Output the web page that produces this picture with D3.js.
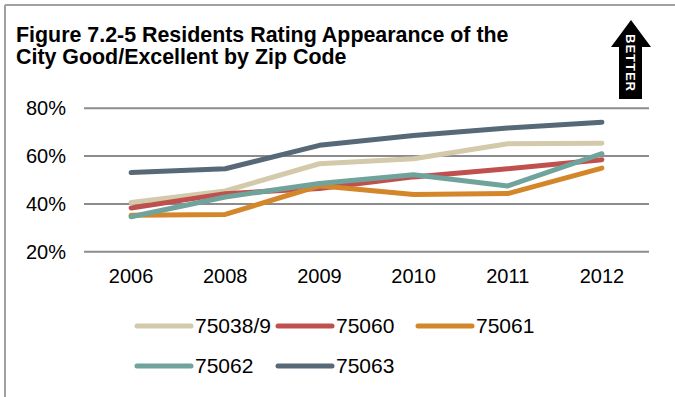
<!DOCTYPE html>
<html>
<head>
<meta charset="utf-8">
<script src="https://cdn.jsdelivr.net/npm/d3@7"></script>
<style>
  html, body { margin: 0; padding: 0; background: #fff; }
  svg { display: block; font-family: "Liberation Sans", Arial, sans-serif; }
</style>
</head>
<body>
<div id="chart"></div>
<script>
// Survey years (category axis)
const years = ["2006", "2008", "2009", "2010", "2011", "2012"];

// Share of residents rating the city's appearance good/excellent, by zip code (%)
const zip7503839 = [40.6, 45.4, 56.8, 58.9, 65.2, 65.4];
const zip75060   = [38.3, 44.3, 46.4, 51.3, 54.7, 58.5];
const zip75061   = [35.2, 35.6, 47.6, 43.9, 44.3, 55.0];
const zip75062   = [34.6, 42.9, 48.5, 52.2, 47.5, 61.0];
const zip75063   = [53.1, 54.7, 64.5, 68.6, 71.8, 74.2];

const seriesNames = ["75038/9", "75060", "75061", "75062", "75063"];
const seriesColors = ["#d3caab", "#c0504d", "#d4862a", "#6fa39b", "#576876"];

const yTicks = [20, 40, 60, 80];

const series = [
  { name: seriesNames[0], values: zip7503839, color: seriesColors[0] },
  { name: seriesNames[1], values: zip75060,   color: seriesColors[1] },
  { name: seriesNames[2], values: zip75061,   color: seriesColors[2] },
  { name: seriesNames[3], values: zip75062,   color: seriesColors[3] },
  { name: seriesNames[4], values: zip75063,   color: seriesColors[4] }
];

const W = 675, H = 397;
const svg = d3.select("#chart").append("svg").attr("width", W).attr("height", H);

// Frame (top and left rules)
svg.append("line").attr("x1", 5).attr("x2", W).attr("y1", 5).attr("y2", 5)
  .attr("stroke", "#a0a0a0").attr("stroke-width", 2);
svg.append("line").attr("x1", 5).attr("x2", 5).attr("y1", 5).attr("y2", H)
  .attr("stroke", "#a0a0a0").attr("stroke-width", 2);

// Title
const title = svg.append("text")
  .attr("font-size", 21.4).attr("font-weight", "bold").attr("fill", "#000");
title.append("tspan").attr("x", 16).attr("y", 42).text("Figure 7.2-5 Residents Rating Appearance of the");
title.append("tspan").attr("x", 16).attr("y", 64).text("City Good/Excellent by Zip Code");

// "BETTER" arrow
const arrow = svg.append("g");
arrow.append("path")
  .attr("d", "M631,20 L651,47 L642,47 L642,99 L619,99 L619,47 L611,47 Z")
  .attr("fill", "#000");
arrow.append("text")
  .attr("transform", "translate(631,63) rotate(90)")
  .attr("text-anchor", "middle").attr("dy", "0.36em")
  .attr("font-size", 13).attr("font-weight", "bold").attr("fill", "#fff")
  .attr("letter-spacing", 1)
  .text("BETTER");

// Plot area
const plotLeft = 84, plotRight = 649, plotTop = 108.3, plotBottom = 251.7;
const x = d3.scaleBand().domain(years).range([plotLeft, plotRight]);
const y = d3.scaleLinear().domain([20, 80]).range([plotBottom, plotTop]);

// Gridlines
svg.append("g").selectAll("line").data(yTicks).join("line")
  .attr("x1", plotLeft).attr("x2", plotRight)
  .attr("y1", d => y(d)).attr("y2", d => y(d))
  .attr("stroke", "#8c8c8c").attr("stroke-width", 2);

// Y axis labels
const yAxis = d3.axisLeft(y).tickValues(yTicks).tickFormat(d => d + "%").tickSize(0).tickPadding(18);
svg.append("g").attr("transform", `translate(${plotLeft},0)`).call(yAxis)
  .call(g => g.select(".domain").remove())
  .call(g => g.selectAll("text").attr("font-size", 20).attr("fill", "#000")
    .attr("font-family", "'Liberation Sans', Arial, sans-serif"));

// X axis labels
const xAxis = d3.axisBottom(x).tickSize(0).tickPadding(17);
svg.append("g").attr("transform", `translate(0,${plotBottom})`).call(xAxis)
  .call(g => g.select(".domain").remove())
  .call(g => g.selectAll("text").attr("font-size", 20).attr("fill", "#000")
    .attr("font-family", "'Liberation Sans', Arial, sans-serif"));

// Series lines
const line = d3.line()
  .x((d, i) => x(years[i]) + x.bandwidth() / 2)
  .y(d => y(d));

svg.append("g").selectAll("path").data(series).join("path")
  .attr("d", d => line(d.values))
  .attr("fill", "none")
  .attr("stroke", d => d.color)
  .attr("stroke-width", 5)
  .attr("stroke-linecap", "round")
  .attr("stroke-linejoin", "round");

// Legend
const legendPos = [
  { x: 137, y: 326 }, { x: 278, y: 326 }, { x: 418, y: 326 },
  { x: 137, y: 366 }, { x: 278, y: 366 }
];
const legend = svg.append("g").selectAll("g").data(series).join("g")
  .attr("transform", (d, i) => `translate(${legendPos[i].x},${legendPos[i].y})`);
legend.append("line").attr("x1", 0).attr("x2", 54).attr("y1", 0).attr("y2", 0)
  .attr("stroke", d => d.color).attr("stroke-width", 5).attr("stroke-linecap", "round");
legend.append("text").attr("x", 58).attr("y", 0).attr("dy", "0.35em")
  .attr("font-size", 21).attr("fill", "#000").text(d => d.name);
</script>
</body>
</html>
